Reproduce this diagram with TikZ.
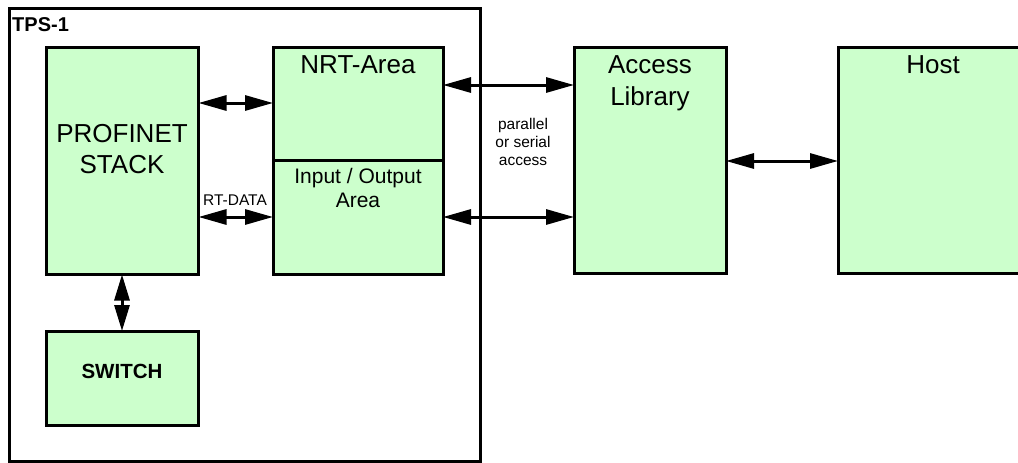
\documentclass[tikz,border=0pt]{standalone}
\usepackage{fontspec}
\setmainfont{Liberation Sans}
\usetikzlibrary{arrows.meta}
\definecolor{boxgreen}{HTML}{CCFFCC}
\begin{document}
\begin{tikzpicture}[x=1pt,y=-1pt,
  box/.style={draw=black,line width=3pt,fill=boxgreen,rectangle,inner sep=0pt,outer sep=0pt,anchor=north west},
  frame/.style={draw=black,line width=2.5pt,rectangle,inner sep=0pt,outer sep=0pt,anchor=north west},
  arr/.style={line width=3pt,{Triangle[length=28pt,width=15pt]}-{Triangle[length=28pt,width=15pt]}},
  varr/.style={line width=3pt,{Triangle[length=26pt,width=15pt]}-{Triangle[length=26pt,width=15pt]}},
  big/.style={font=\fontsize{26}{31}\selectfont,inner sep=0pt,anchor=base},
  mid/.style={font=\fontsize{21}{25}\selectfont,inner sep=0pt,anchor=base},
  small/.style={font=\fontsize{15.5}{18}\selectfont,inner sep=0pt,anchor=base}]
\path[use as bounding box] (0,0) rectangle (1018,463);
\clip (0,0) rectangle (1018,463);
\fill[white] (0,0) rectangle (1018,463);
% outer frame
\node[frame,minimum width=471,minimum height=453] (tps) at (9.5,8.5) {};
\node[inner sep=0pt,anchor=base west,font=\bfseries\fontsize{20}{24}\selectfont] (tpsl) at (12,31) {TPS-1};
% boxes
\node[box,minimum width=152,minimum height=227] (pn) at (46.5,47.5) {};
\node[box,minimum width=170,minimum height=113] (nrt) at (273,47.5) {};
\node[box,minimum width=170,minimum height=114] (io) at (273,160.5) {};
\node[box,minimum width=152,minimum height=226] (acc) at (574,47.5) {};
\node[box,minimum width=220,minimum height=226] (host) at (838,47.5) {};
\node[box,minimum width=152,minimum height=94] (sw) at (46.5,331) {};
% texts
\node[big] (pnt1) at (122,142) {PROFINET};
\node[big] (pnt2) at (122,173) {STACK};
\node[big] (nrtt) at (358,73) {NRT-Area};
\node[mid] (iot1) at (358,183) {Input / Output};
\node[mid] (iot2) at (358,207) {Area};
\node[big] (acct1) at (650,73) {Access};
\node[big] (acct2) at (650,105) {Library};
\node[big] (hostt) at (933,73) {Host};
\node[mid,font=\bfseries\fontsize{20.5}{24}\selectfont] (swt) at (122,378) {SWITCH};
\node[small] (rtd) at (235,205) {RT-DATA};
\node[small] (par1) at (523,129) {parallel};
\node[small] (par2) at (523,147) {or serial};
\node[small] (par3) at (523,165) {access};
% connectors
\draw[arr] (pn.east |- 0,103) -- (nrt.west |- 0,103);
\draw[arr] (pn.east |- 0,217) -- (io.west |- 0,217);
\draw[arr] (nrt.east |- 0,85) -- (acc.west |- 0,85);
\draw[arr] (io.east |- 0,217) -- (acc.west |- 0,217);
\draw[arr] (acc.east |- 0,161) -- (host.west |- 0,161);
\draw[varr] (pn.south -| 122,0) -- (sw.north -| 122,0);
\end{tikzpicture}
\end{document}
